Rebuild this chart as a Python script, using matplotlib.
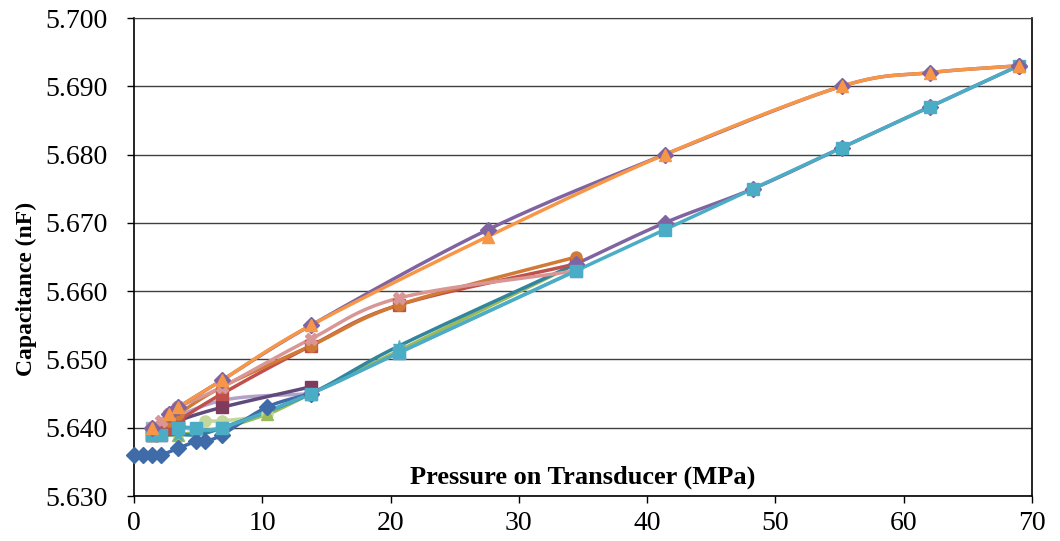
import numpy as np
import matplotlib
matplotlib.use("Agg")
import matplotlib.pyplot as plt

plt.rcParams['font.family'] = ['Liberation Serif', 'DejaVu Serif']

# Pressure steps (MPa) and measured capacitance (nF) for each run
blue_x = [0, 0.69, 1.38, 2.07, 3.45, 4.83, 5.52, 6.89, 10.34, 13.79]
blue_y = [5.636, 5.636, 5.636, 5.636, 5.637, 5.638, 5.638, 5.639, 5.643, 5.645]

maroon_x = [1.38, 2.07, 2.76, 3.45, 6.89, 13.79]
maroon_y = [5.639, 5.639, 5.640, 5.641, 5.643, 5.646]

red_x = [1.38, 2.07, 2.76, 3.45, 6.89, 13.79, 20.68, 34.47]
red_y = [5.639, 5.640, 5.640, 5.641, 5.645, 5.652, 5.658, 5.664]

brown_x = [1.38, 2.76, 3.45, 6.89, 13.79, 20.68, 34.47]
brown_y = [5.639, 5.641, 5.642, 5.646, 5.652, 5.658, 5.665]

pink_x = [1.38, 2.07, 2.76, 3.45, 6.89, 13.79, 20.68, 34.47]
pink_y = [5.640, 5.641, 5.642, 5.643, 5.646, 5.653, 5.659, 5.663]

purple_up_x = [1.38, 2.76, 3.45, 6.89, 13.79, 27.58, 41.37, 55.16, 62.05, 68.95]
purple_up_y = [5.640, 5.642, 5.643, 5.647, 5.655, 5.669, 5.680, 5.690, 5.692, 5.693]

purple_dn_x = [34.47, 41.37, 48.26, 55.16, 62.05, 68.95]
purple_dn_y = [5.664, 5.670, 5.675, 5.681, 5.687, 5.693]

orange_x = [1.38, 2.76, 3.45, 6.89, 13.79, 27.58, 41.37, 55.16, 62.05, 68.95]
orange_y = [5.640, 5.642, 5.643, 5.647, 5.655, 5.668, 5.680, 5.690, 5.692, 5.693]

aqua_x = [1.38, 2.07, 3.45, 4.83, 6.89, 13.79, 20.68, 34.47, 41.37, 48.26, 55.16, 62.05, 68.95]
aqua_y = [5.639, 5.639, 5.640, 5.640, 5.640, 5.645, 5.651, 5.663, 5.669, 5.675, 5.681, 5.687, 5.693]

teal_x = [1.38, 2.07, 3.45, 4.83, 6.89, 13.79, 20.68, 34.47]
teal_y = [5.639, 5.639, 5.639, 5.639, 5.640, 5.645, 5.652, 5.664]

green_x = [1.38, 3.45, 6.89, 10.34, 13.79, 34.47]
green_y = [5.639, 5.639, 5.640, 5.642, 5.645, 5.664]

ltblue_x = [1.38, 3.45, 6.89, 13.79, 20.68, 34.47]
ltblue_y = [5.640, 5.640, 5.640, 5.645, 5.651, 5.663]

lavender_x = [1.38, 6.89, 13.79]
lavender_y = [5.640, 5.644, 5.645]

ltgreen_x = [1.38, 2.07, 3.45, 4.83, 5.52, 6.89, 10.34, 13.79]
ltgreen_y = [5.640, 5.640, 5.640, 5.640, 5.641, 5.641, 5.642, 5.645]

x_ticks = [0, 10, 20, 30, 40, 50, 60, 70]
y_ticks = [5.630, 5.640, 5.650, 5.660, 5.670, 5.680, 5.690, 5.700]

series = [
    (lavender_x, lavender_y, '#B3A2C7', '#B3A2C7', 'P'),
    (ltgreen_x, ltgreen_y, '#C3D69B', '#C3D69B', 'o'),
    (ltblue_x, ltblue_y, '#95B3D7', '#95B3D7', 's'),
    (green_x, green_y, '#9BBB59', '#9BBB59', '^'),
    (teal_x, teal_y, '#31859C', '#4BACC6', '*'),
    (blue_x, blue_y, '#3F6CA8', '#3F6CA8', 'D'),
    (maroon_x, maroon_y, '#604A7B', '#7E3B5E', 's'),
    (red_x, red_y, '#C0504D', '#C0504D', 's'),
    (brown_x, brown_y, '#D07A35', '#D07A35', 'o'),
    (pink_x, pink_y, '#D99694', '#D99694', 'X'),
    (purple_dn_x, purple_dn_y, '#8064A2', '#8064A2', 'D'),
    (aqua_x, aqua_y, '#4BACC6', '#4BACC6', 's'),
    (purple_up_x, purple_up_y, '#8064A2', '#8064A2', 'D'),
    (orange_x, orange_y, '#F79646', '#F79646', '^'),
]


def smooth(xs, ys, n=24):
    """Catmull-Rom curve through the points, like a smoothed spreadsheet line."""
    xs = np.asarray(xs, float)
    ys = np.asarray(ys, float)
    if len(xs) < 3:
        return xs, ys
    # work in roughly isotropic units so the tangents behave
    sx, sy = 70.0, 0.07
    px = np.concatenate([[2 * xs[0] - xs[1]], xs, [2 * xs[-1] - xs[-2]]]) / sx
    py = np.concatenate([[2 * ys[0] - ys[1]], ys, [2 * ys[-1] - ys[-2]]]) / sy
    outx, outy = [], []
    for i in range(1, len(px) - 2):
        t = np.linspace(0, 1, n, endpoint=False)
        p0, p1, p2, p3 = [np.array([px[j], py[j]]) for j in (i - 1, i, i + 1, i + 2)]
        m1 = (p2 - p0) / 6.0
        m2 = (p3 - p1) / 6.0
        b0, b1, b2, b3 = p1, p1 + m1, p2 - m2, p2
        for tt in t:
            pt = ((1 - tt) ** 3) * b0 + 3 * ((1 - tt) ** 2) * tt * b1 + 3 * (1 - tt) * tt ** 2 * b2 + tt ** 3 * b3
            outx.append(pt[0])
            outy.append(pt[1])
    outx.append(px[-2])
    outy.append(py[-2])
    return np.array(outx) * sx, np.array(outy) * sy


fig = plt.figure(figsize=(10.6, 5.41), dpi=100)
ax = fig.add_axes([134 / 1060, 1 - 496 / 541, (1032 - 134) / 1060, (496 - 18) / 541])

for xs, ys, lc, mc, mk in series:
    sx_, sy_ = smooth(xs, ys)
    ax.plot(sx_, sy_, color=lc, lw=2.5, solid_capstyle='round', zorder=3)
    ax.plot(xs, ys, linestyle='none', marker=mk, ms=8 if mk not in ('*', 'X', 'P') else 9,
            color=mc, markeredgecolor=mc, zorder=4, clip_on=False)

ax.set_xlim(0, 70)
ax.set_ylim(5.630, 5.700)
ax.set_xticks(x_ticks)
ax.set_yticks(y_ticks)
ax.set_xticklabels([str(v) for v in x_ticks])
ax.set_yticklabels([f"{v:.3f}" for v in y_ticks])
ax.tick_params(axis='both', labelsize=20, direction='out', length=5, width=1, color='black')
ax.tick_params(axis='x', pad=6)
ax.tick_params(axis='y', pad=14)
ax.yaxis.grid(True, color='#404040', lw=1)
ax.set_axisbelow(True)
for side in ('left', 'bottom', 'right'):
    ax.spines[side].set_color('black')
    ax.spines[side].set_linewidth(1.2)
ax.spines['top'].set_color('#404040')

ax.set_ylabel('Capacitance (nF)', fontsize=17, fontweight='bold', labelpad=6)
ax.yaxis.set_label_coords(-0.108, 0.433)
ax.text(0.5, 0.04, 'Pressure on Transducer (MPa)', transform=ax.transAxes,
        ha='center', va='center', fontsize=19, fontweight='bold')

fig.savefig('out.png', dpi=100)
